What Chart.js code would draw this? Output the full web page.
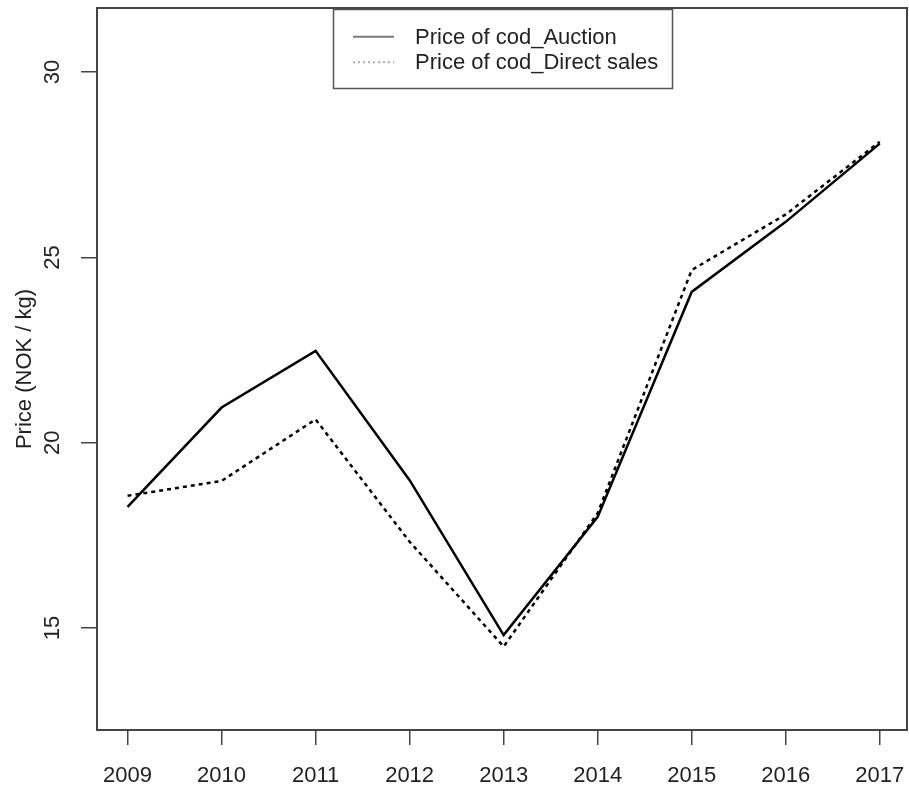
<!DOCTYPE html>
<html>
<head>
<meta charset="utf-8">
<script src="https://cdn.jsdelivr.net/npm/chart.js@4/dist/chart.umd.min.js"></script>
<style>
  html, body { margin: 0; padding: 0; background: #fff; }
  #wrap { width: 909px; height: 789px; position: relative; }
</style>
</head>
<body>
<div id="wrap"><canvas id="c" width="909" height="789"></canvas></div>
<script>
const years = [2009, 2010, 2011, 2012, 2013, 2014, 2015, 2016, 2017];
const auctionPrice = [18.27, 20.95, 22.48, 18.99, 14.81, 18.00, 24.07, 25.96, 28.07];
const directPrice  = [18.57, 18.97, 20.63, 17.33, 14.50, 18.10, 24.66, 26.16, 28.12];
const yTickValues = [15, 20, 25, 30];
const seriesNames = ['Price of cod_Auction', 'Price of cod_Direct sales'];
const yTitle = 'Price (NOK / kg)';

const FONT = "'Liberation Sans', Arial, Helvetica, sans-serif";
const AXIS_COLOR = '#444';

const boxPlugin = {
  id: 'rbox',
  afterDraw(chart) {
    const ctx = chart.ctx;
    const a = chart.chartArea;
    ctx.save();
    ctx.strokeStyle = AXIS_COLOR;
    ctx.lineWidth = 2;
    ctx.strokeRect(a.left, a.top, a.right - a.left, a.bottom - a.top);

    // legend box (top-centre, overlapping plot)
    const lx = 333.5, ly = 9.5, lw = 339, lh = 79;
    ctx.fillStyle = '#fff';
    ctx.fillRect(lx, ly, lw, lh);
    ctx.strokeStyle = '#555';
    ctx.lineWidth = 1.5;
    ctx.strokeRect(lx, ly, lw, lh);
    const rows = [36.7, 62.3];
    chart.data.datasets.forEach((ds, i) => {
      ctx.beginPath();
      ctx.setLineDash(i === 0 ? [] : [2, 3]);
      ctx.strokeStyle = i === 0 ? '#7a7a7a' : '#aaaaaa';
      ctx.lineWidth = 2;
      ctx.moveTo(353, rows[i]);
      ctx.lineTo(394, rows[i]);
      ctx.stroke();
      ctx.setLineDash([]);
      ctx.fillStyle = '#222';
      ctx.font = '22px ' + FONT;
      ctx.textBaseline = 'middle';
      ctx.textAlign = 'left';
      ctx.fillText(ds.label, 415, rows[i] + 1);
    });
    ctx.restore();
  }
};

new Chart(document.getElementById('c'), {
  type: 'line',
  data: {
    datasets: [
      {
        label: seriesNames[0],
        data: years.map((y, i) => ({ x: y, y: auctionPrice[i] })),
        borderColor: '#000',
        borderWidth: 2.5,
        pointRadius: 0,
        tension: 0,
        fill: false
      },
      {
        label: seriesNames[1],
        data: years.map((y, i) => ({ x: y, y: directPrice[i] })),
        borderColor: '#000',
        borderWidth: 2.5,
        borderDash: [4, 4],
        pointRadius: 0,
        tension: 0,
        fill: false
      }
    ]
  },
  options: {
    responsive: false,
    animation: false,
    devicePixelRatio: 1,
    layout: { padding: { top: 8, right: 2, left: 0, bottom: 0 } },
    plugins: { legend: { display: false }, tooltip: { enabled: false } },
    scales: {
      x: {
        type: 'linear',
        min: 2008.675,
        max: 2017.29,
        afterBuildTicks: (s) => { s.ticks = years.map(v => ({ value: v })); },
        afterFit: (s) => { s.height = 59; s.paddingLeft = 0; s.paddingRight = 0; },
        border: { display: true, color: AXIS_COLOR, width: 2 },
        grid: { drawOnChartArea: false, drawTicks: true, tickLength: 15, color: AXIS_COLOR, lineWidth: 1.5 },
        ticks: {
          font: { family: FONT, size: 22 },
          color: '#222',
          padding: 18,
          maxRotation: 0,
          minRotation: 0,
          autoSkip: false,
          callback: (v) => String(v)
        }
      },
      y: {
        type: 'linear',
        min: 12.25,
        max: 31.73,
        afterBuildTicks: (s) => { s.ticks = yTickValues.map(v => ({ value: v })); },
        afterFit: (s) => { s.width = 97; s.paddingTop = 0; s.paddingBottom = 0; },
        border: { display: true, color: AXIS_COLOR, width: 2 },
        grid: { drawOnChartArea: false, drawTicks: true, tickLength: 16, color: AXIS_COLOR, lineWidth: 1.5 },
        title: {
          display: true,
          text: yTitle,
          font: { family: FONT, size: 22 },
          color: '#222',
          padding: { top: 12, bottom: 0 }
        },
        ticks: {
          font: { family: FONT, size: 22 },
          color: '#222',
          padding: 16,
          minRotation: 90,
          maxRotation: 90,
          crossAlign: 'center',
          autoSkip: false,
          callback: (v) => String(v)
        }
      }
    }
  },
  plugins: [boxPlugin]
});
</script>
</body>
</html>
